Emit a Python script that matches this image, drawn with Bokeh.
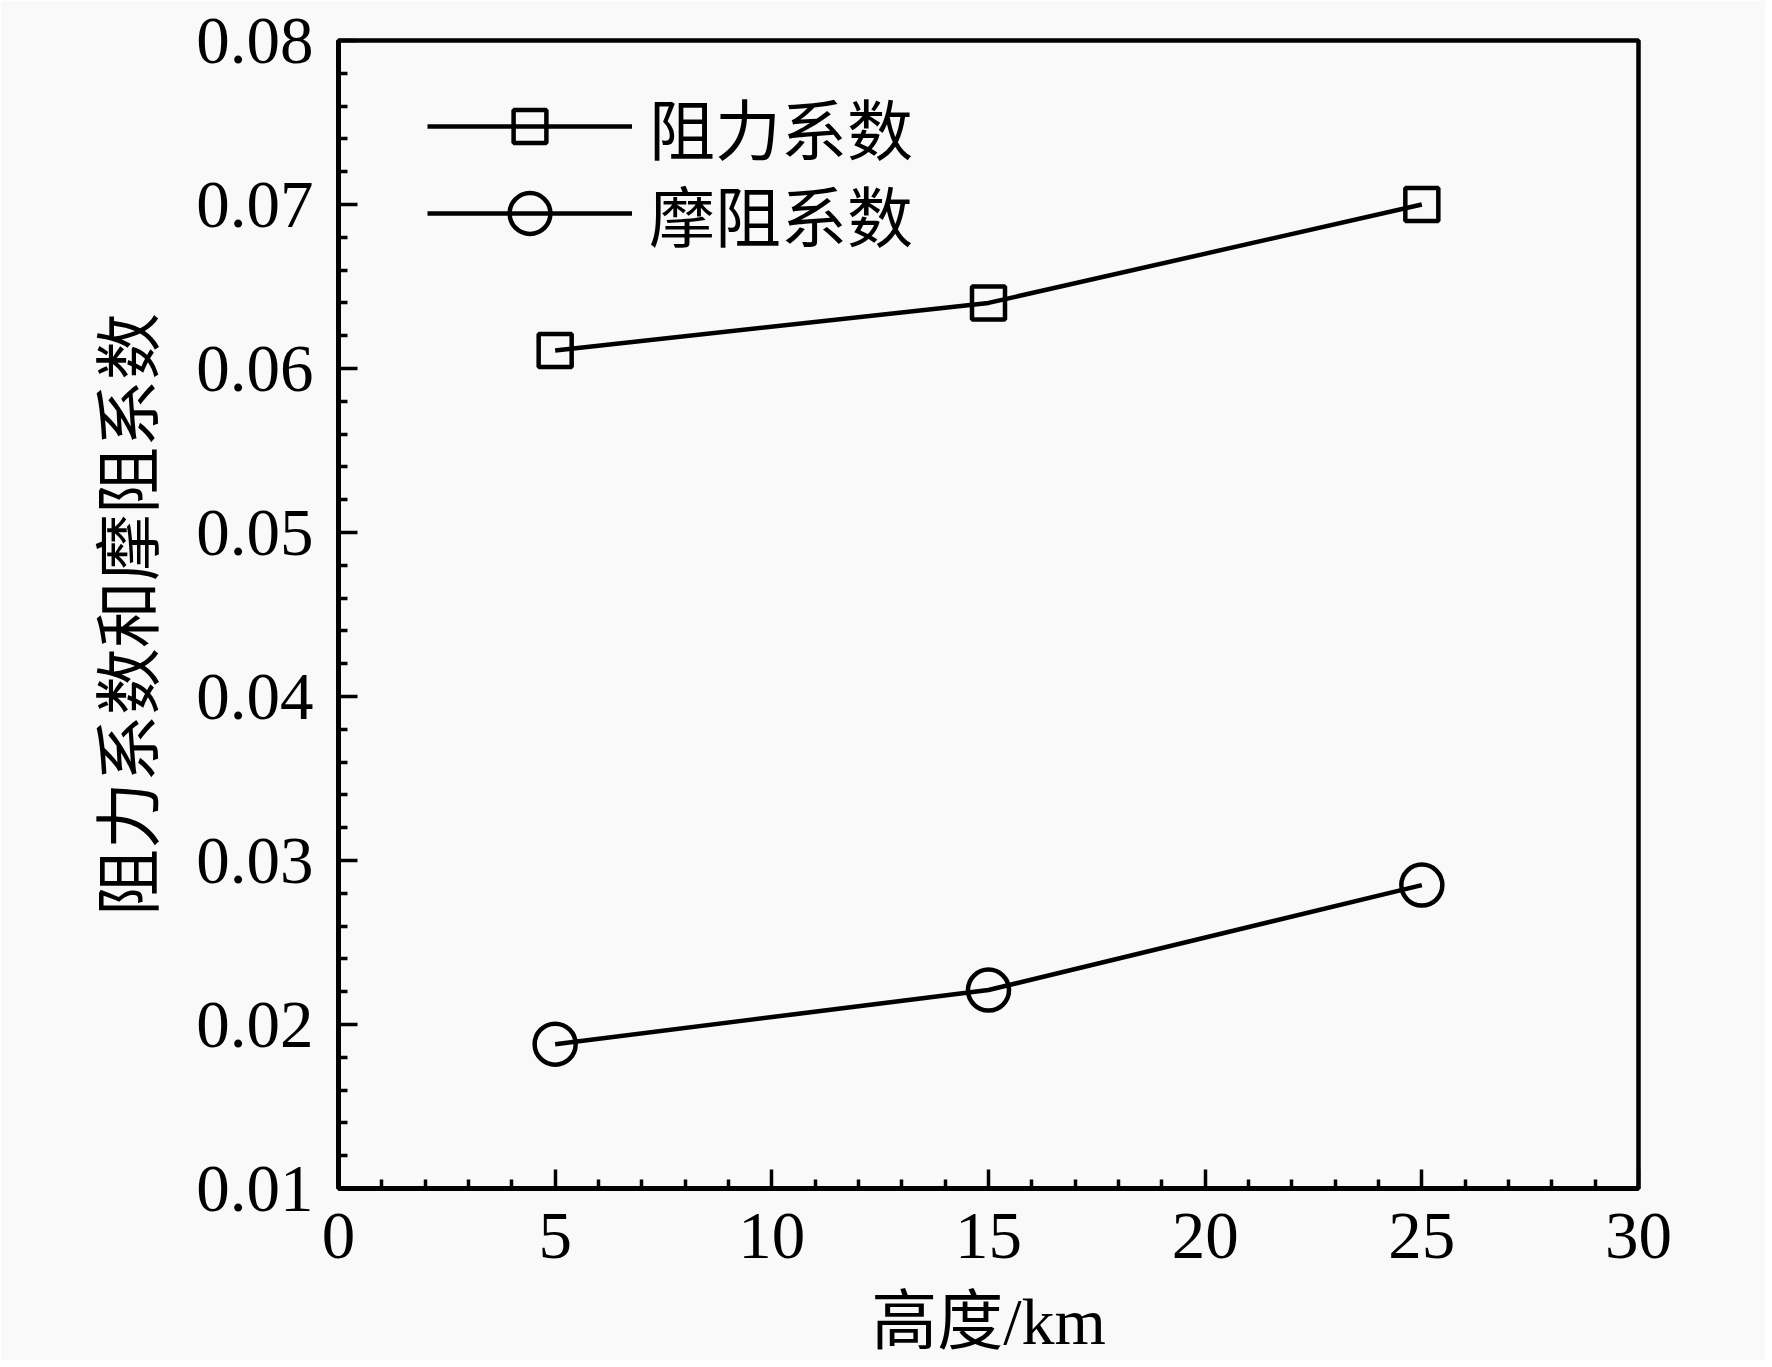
from bokeh.plotting import figure
from bokeh.models import Range1d, FixedTicker, PrintfTickFormatter, Legend, LegendItem
from bokeh.embed import file_html
from bokeh.resources import INLINE

# ---- data ----
altitude = [5, 15, 25]
drag_coef = [0.0611, 0.0640, 0.0700]
friction_coef = [0.0188, 0.0221, 0.0285]
series_names = ["阻力系数", "摩阻系数"]
x_ticks = [0, 5, 10, 15, 20, 25, 30]
x_minor = [i for i in range(0, 31) if i % 5 != 0]
y_ticks = [0.01, 0.02, 0.03, 0.04, 0.05, 0.06, 0.07, 0.08]
y_minor = [round(0.01 + 0.002 * i, 4) for i in range(36) if i % 5 != 0]
x_label = "高度/km"
y_label = "阻力系数和摩阻系数"

BG = "#f9f9f9"
NUM_FONT = "'Liberation Serif', 'Noto Sans CJK SC'"
CJK_FONT = "'Noto Sans CJK SC'"

p = figure(width=1765, height=1360, output_backend="svg", toolbar_location=None,
           x_range=Range1d(0, 30), y_range=Range1d(0.01, 0.08),
           min_border_left=338, min_border_right=127, min_border_top=40, min_border_bottom=169)
p.background_fill_color = BG
p.border_fill_color = BG
p.grid.visible = False
p.outline_line_color = "black"
p.outline_line_width = 4.5

for ax in (p.xaxis[0], p.yaxis[0]):
    ax.axis_line_width = 5
    ax.axis_line_color = "black"
    ax.major_tick_in = 19
    ax.major_tick_out = 0
    ax.minor_tick_in = 9
    ax.minor_tick_out = 0
    ax.major_tick_line_width = 3.5
    ax.minor_tick_line_width = 3.5
    ax.major_label_text_font = NUM_FONT
    ax.major_label_text_font_size = "67px"
    ax.major_label_text_color = "black"
    ax.axis_label_text_font = NUM_FONT
    ax.axis_label_text_font_size = "66px"
    ax.axis_label_text_font_style = "normal"
    ax.axis_label_text_color = "black"

p.yaxis.axis_label_text_font_size = "67px"
p.xaxis.ticker = FixedTicker(ticks=x_ticks, minor_ticks=x_minor)
p.yaxis.ticker = FixedTicker(ticks=y_ticks, minor_ticks=y_minor)
p.yaxis.formatter = PrintfTickFormatter(format="%.2f")
p.xaxis.major_label_standoff = 25
p.yaxis.major_label_standoff = 25
p.xaxis.axis_label = x_label
p.yaxis.axis_label = y_label
p.xaxis.axis_label_standoff = 24
p.yaxis.axis_label_standoff = 26

l1 = p.line(altitude, drag_coef, line_width=4.5, line_color="black")
s1 = p.scatter(altitude, drag_coef, marker="square", size=33, fill_color=None,
               line_color="black", line_width=4.5)
l2 = p.line(altitude, friction_coef, line_width=4.5, line_color="black")
s2 = p.scatter(altitude, friction_coef, marker="circle", size=41, fill_color=None,
               line_color="black", line_width=4.5)

def make_legend(label, rends, gh, loc):
    return Legend(items=[LegendItem(label=label, renderers=rends)], location=loc,
                  glyph_width=205, glyph_height=gh, label_standoff=17,
                  label_text_font=CJK_FONT, label_text_font_size="66px",
                  label_text_color="black", padding=0, margin=0, spacing=0,
                  border_line_color=None, background_fill_alpha=0,
                  label_height=gh)

p.add_layout(make_legend(series_names[0], [l1, s1], 82, (89, 1014)))
p.add_layout(make_legend(series_names[1], [l2, s2], 102, (89, 924)))

open("out.html", "w").write(file_html(p, INLINE))
